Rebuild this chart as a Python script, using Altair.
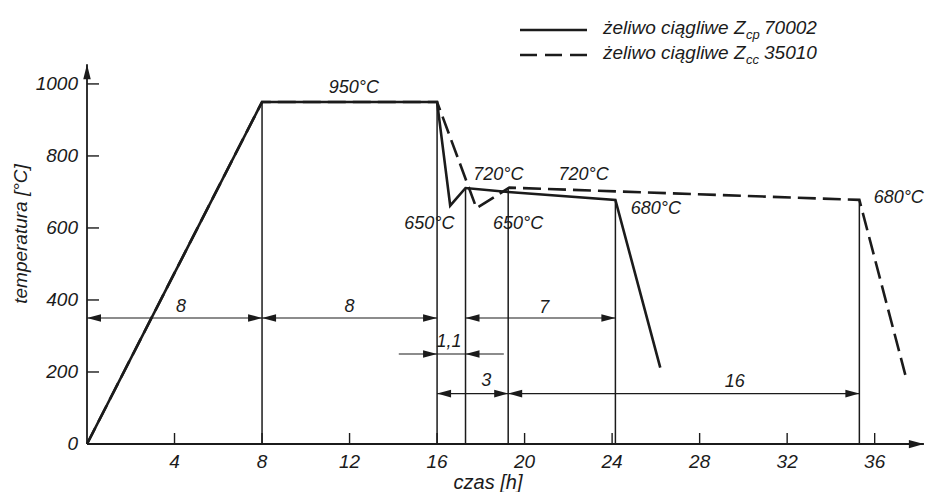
import altair as alt
import pandas as pd

# ---------------- data ----------------
# solid curve: żeliwo ciągliwe Zcp 70002  (time h, temperature °C)
cp_time = [0, 8, 16, 16.6, 17.3, 19.25, 24.15, 26.2]
cp_temp = [0, 950, 950, 662, 711, 700, 678, 212]
# dashed curve: żeliwo ciągliwe Zcc 35010
cc_time = [0, 8, 16, 17.8, 19.3, 35.3, 37.4]
cc_temp = [0, 950, 950, 655, 712, 678, 192]

# thin vertical guide lines
guide_time = [8, 16, 17.3, 19.25, 24.15, 35.3]
guide_top = [950, 950, 711, 712, 678, 678]

# dimension lines
dim_level = [350, 350, 350, 250, 140]
dim_from = [0, 8, 17.3, 14.25, 16]
dim_to = [8, 16, 24.15, 19.05, 35.3]

# arrow heads on the dimension lines (tip position, direction)
head_time = [0, 8, 8, 16, 17.3, 24.15, 16, 17.3, 16, 19.25, 19.25, 35.3]
head_level = [350, 350, 350, 350, 350, 350, 250, 250, 140, 140, 140, 140]
head_dir = ["L", "R", "L", "R", "L", "R", "R", "L", "L", "R", "L", "R"]

dim_text = ["8", "8", "7", "1,1", "3", "16"]
dim_text_time = [4.3, 12.0, 20.9, 16.55, 18.25, 29.6]
dim_text_level = [380, 380, 378, 282, 175, 172]

temp_text = ["950°C", "650°C", "720°C", "720°C", "650°C", "680°C", "680°C"]
temp_text_time = [12.2, 15.65, 18.8, 22.7, 19.7, 26.0, 37.1]
temp_text_level = [990, 612, 747, 747, 612, 652, 683]

x_ticks = [4, 8, 12, 16, 20, 24, 28, 32, 36]
y_ticks = [200, 400, 600, 800, 1000]
y_labels = [0, 200, 400, 600, 800, 1000]
axis_end_time = 38.25
axis_end_temp = 1055

legend_names = ["żeliwo ciągliwe Z", "żeliwo ciągliwe Z"]
legend_subs = ["cp", "cc"]
legend_nums = ["70002", "35010"]

x_title = "czas [h]"
y_title = "temperatura [°C]"

# ---------------- styling ----------------
W, H = 838, 422
INK = "#1b1b1b"
FONT = "Liberation Sans"
xs = alt.Scale(domain=[0, 38.3], nice=False, zero=False)
ys = alt.Scale(domain=[0, 1172], nice=False, zero=False)

PATH_L = "M0,0 L2,-0.55 L2,0.55 Z"
PATH_R = "M0,0 L-2,-0.55 L-2,0.55 Z"
PATH_U = "M0,0 L-0.5,2 L0.5,2 Z"


def X(f):
    return alt.X(f, type="quantitative", scale=xs, axis=None)


def Y(f):
    return alt.Y(f, type="quantitative", scale=ys, axis=None)


cp_df = pd.DataFrame({"t": cp_time, "T": cp_temp, "i": list(range(len(cp_time)))})
cc_df = pd.DataFrame({"t": cc_time, "T": cc_temp, "i": list(range(len(cc_time)))})
guide_df = pd.DataFrame({"t": guide_time, "top": guide_top, "base": [0] * len(guide_time)})
dim_df = pd.DataFrame({"a": dim_from, "b": dim_to, "lvl": dim_level})
head_df = pd.DataFrame({"t": head_time, "lvl": head_level, "d": head_dir})
axis_head_df = pd.DataFrame({"t": [axis_end_time, 0], "lvl": [0, axis_end_temp], "d": ["R", "U"]})
axes_df = pd.DataFrame({"a": [0, 0], "b": [axis_end_time, 0], "l1": [0, 0], "l2": [0, axis_end_temp]})
dim_text_df = pd.DataFrame({"t": dim_text_time, "lvl": dim_text_level, "s": dim_text})
temp_text_df = pd.DataFrame({"t": temp_text_time, "lvl": temp_text_level, "s": temp_text})
xt_df = pd.DataFrame({"v": x_ticks})
yt_df = pd.DataFrame({"v": y_ticks})
yl_df = pd.DataFrame({"v": y_labels, "s": [str(v) for v in y_labels]})

shape_scale = alt.Scale(domain=["L", "R", "U"], range=[PATH_L, PATH_R, PATH_U])

guides = alt.Chart(guide_df).mark_rule(color=INK, strokeWidth=1.5).encode(
    x=X("t"), y=Y("base"), y2="top")

axes = alt.Chart(axes_df).mark_rule(color=INK, strokeWidth=1.8).encode(
    x=X("a"), x2="b", y=Y("l1"), y2="l2")

yticks = alt.Chart(yt_df).mark_rule(color=INK, strokeWidth=1.4).encode(
    y=Y("v"), x=alt.value(0), x2=alt.value(12))
xticks = alt.Chart(xt_df).mark_rule(color=INK, strokeWidth=1.4).encode(
    x=X("v"), y=alt.value(H), y2=alt.value(H - 11))

dims = alt.Chart(dim_df).mark_rule(color=INK, strokeWidth=1.2).encode(
    x=X("a"), x2="b", y=Y("lvl"))

heads = alt.Chart(head_df).mark_point(filled=True, size=196, color=INK, opacity=1, strokeWidth=0).encode(
    x=X("t"), y=Y("lvl"), shape=alt.Shape("d:N", scale=shape_scale, legend=None))

axis_heads = alt.Chart(axis_head_df).mark_point(filled=True, size=225, color=INK, opacity=1, strokeWidth=0).encode(
    x=X("t"), y=Y("lvl"), shape=alt.Shape("d:N", scale=shape_scale, legend=None))

line_cc = alt.Chart(cc_df).mark_line(color=INK, strokeWidth=2.6, strokeDash=[18, 7], strokeJoin="miter").encode(
    x=X("t"), y=Y("T"), order="i:Q")
line_cp = alt.Chart(cp_df).mark_line(color=INK, strokeWidth=2.6, strokeJoin="miter").encode(
    x=X("t"), y=Y("T"), order="i:Q")

txt = dict(font=FONT, fontStyle="italic", color=INK)

dim_labels = alt.Chart(dim_text_df).mark_text(fontSize=18, baseline="middle", align="center", **txt).encode(
    x=X("t"), y=Y("lvl"), text="s:N")
temp_labels = alt.Chart(temp_text_df).mark_text(fontSize=18, baseline="middle", align="center", **txt).encode(
    x=X("t"), y=Y("lvl"), text="s:N")

ylab = alt.Chart(yl_df).mark_text(fontSize=19, baseline="middle", align="right", **txt).encode(
    y=Y("v"), x=alt.value(-9), text="s:N")
xlab = alt.Chart(xt_df).mark_text(fontSize=19, baseline="top", align="center", **txt).encode(
    x=X("v"), y=alt.value(H + 9), text="v:Q")

one = alt.Data(values=[{}])
xtitle = alt.Chart(one).mark_text(text=x_title, fontSize=20, baseline="alphabetic", align="center", **txt).encode(
    x=alt.value(401), y=alt.value(H + 45))
ytitle = alt.Chart(one).mark_text(text=y_title, fontSize=19, baseline="middle", align="center", angle=270, **txt).encode(
    x=alt.value(-66), y=alt.value(212))

# legend (drawn by hand, top right)
leg_solid = alt.Chart(one).mark_rule(color=INK, strokeWidth=2.4).encode(
    x=alt.value(433), x2=alt.value(500), y=alt.value(8))
leg_dash = alt.Chart(one).mark_rule(color=INK, strokeWidth=2.6, strokeDash=[17, 8]).encode(
    x=alt.value(433), x2=alt.value(500), y=alt.value(33))

leg_layers = []
for row, (name, sub, num) in enumerate(zip(legend_names, legend_subs, legend_nums)):
    base_y = 12 + row * 25
    leg_layers.append(alt.Chart(one).mark_text(text=name, fontSize=19, align="left", baseline="alphabetic", **txt).encode(
        x=alt.value(516), y=alt.value(base_y)))
    leg_layers.append(alt.Chart(one).mark_text(text=sub, fontSize=13, align="left", baseline="alphabetic", **txt).encode(
        x=alt.value(659), y=alt.value(base_y + 5)))
    leg_layers.append(alt.Chart(one).mark_text(text=num, fontSize=19, align="left", baseline="alphabetic", **txt).encode(
        x=alt.value(677), y=alt.value(base_y)))

chart = alt.layer(
    guides, axes, yticks, xticks, dims, heads, axis_heads, line_cc, line_cp,
    dim_labels, temp_labels, ylab, xlab, xtitle, ytitle, leg_solid, leg_dash, *leg_layers
).properties(
    width=W, height=H,
    padding={"left": 79, "top": 14, "right": 2, "bottom": 48},
    autosize=alt.AutoSizeParams(type="none"),
    background="white",
).configure_view(stroke=None)

chart.save("out.html", embed_options={"renderer": "svg", "actions": False})
